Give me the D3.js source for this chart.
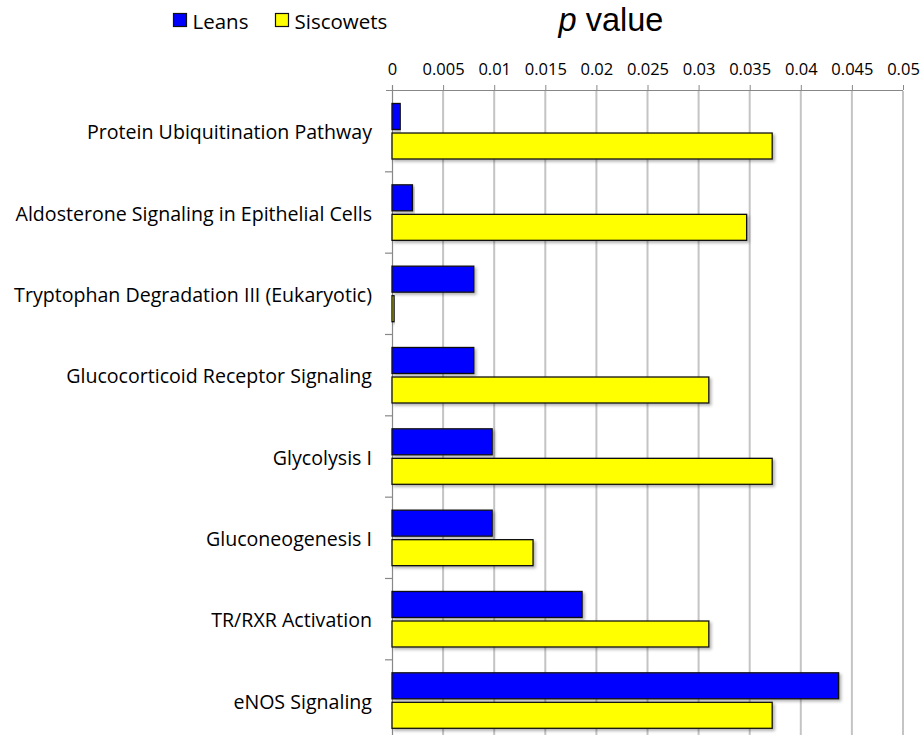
<!DOCTYPE html>
<html>
<head>
<meta charset="utf-8">
<script src="https://cdn.jsdelivr.net/npm/d3@7"></script>
<style>
  body { margin: 0; background: #fff; }
  svg { display: block; }
</style>
</head>
<body>
<div id="chart"></div>
<script>
const pathways = [
  "Protein Ubiquitination Pathway",
  "Aldosterone Signaling in Epithelial Cells",
  "Tryptophan Degradation III (Eukaryotic)",
  "Glucocorticoid Receptor Signaling",
  "Glycolysis I",
  "Gluconeogenesis I",
  "TR/RXR Activation",
  "eNOS Signaling"
];
const seriesNames = ["Leans", "Siscowets"];
const leans = [0.0008, 0.002, 0.008, 0.008, 0.0098, 0.0098, 0.0186, 0.0437];
const siscowets = [0.0372, 0.0347, 0.0002, 0.031, 0.0372, 0.0138, 0.031, 0.0372];
const xTicks = [0, 0.005, 0.01, 0.015, 0.02, 0.025, 0.03, 0.035, 0.04, 0.045, 0.05];
const colors = { Leans: "#0000ff", Siscowets: "#ffff00" };

const width = 921, height = 735;
const font = "'Open Sans', sans-serif";
const svg = d3.select("#chart").append("svg")
  .attr("width", width)
  .attr("height", height);

const defs = svg.append("defs");
const shadow = defs.append("filter").attr("id", "shadow")
  .attr("x", "-5%").attr("y", "-20%").attr("width", "115%").attr("height", "160%");
shadow.append("feDropShadow")
  .attr("dx", 2).attr("dy", 2).attr("stdDeviation", 1.5)
  .attr("flood-color", "#000").attr("flood-opacity", 0.3);

const x = d3.scaleLinear().domain([0, 0.05]).range([392, 903]);
const y = d3.scaleBand().domain(pathways).range([90.5, 90.5 + 8 * 81.33]).padding(0);
const ySub = d3.scaleBand().domain(seriesNames).range([13, 68.5]).paddingInner(0.12);

// gridlines
svg.append("g")
  .selectAll("line")
  .data(xTicks.slice(1))
  .join("line")
  .attr("x1", d => x(d)).attr("x2", d => x(d))
  .attr("y1", 91).attr("y2", height)
  .attr("stroke", "#c4c4c4")
  .attr("stroke-width", 2);

// top axis
const xAxis = svg.append("g")
  .attr("transform", "translate(0,90)")
  .call(d3.axisTop(x).tickValues(xTicks).tickSize(5).tickSizeOuter(0).tickPadding(10)
    .tickFormat(d => d === 0 ? "0" : String(+d.toFixed(3))));
xAxis.select(".domain").attr("stroke", "#888").attr("stroke-width", 1.2)
  .attr("d", `M${x(0) - 6},0.5H${x(0.05)}`);
xAxis.selectAll(".tick line").attr("stroke", "#888");
xAxis.selectAll("text")
  .attr("font-family", font)
  .attr("font-size", "16.5px")
  .attr("fill", "#000");

// left axis
const yAxis = svg.append("g")
  .attr("transform", `translate(${x(0)},0)`)
  .call(d3.axisLeft(y).tickSize(0).tickPadding(20));
yAxis.select(".domain").attr("stroke", "#888").attr("stroke-width", 1.2)
  .attr("d", `M0.5,85V${height}`);
yAxis.selectAll("text")
  .attr("font-family", font)
  .attr("font-size", "19.6px")
  .attr("dy", "0.42em")
  .attr("fill", "#000");
yAxis.append("g")
  .selectAll("line")
  .data(pathways.slice(1))
  .join("line")
  .attr("x1", -7).attr("x2", 0)
  .attr("y1", d => y(d)).attr("y2", d => y(d))
  .attr("stroke", "#888")
  .attr("stroke-width", 1.2);

// bars
const rows = pathways.map((p, i) => ({ p, Leans: leans[i], Siscowets: siscowets[i] }));
const groups = svg.append("g")
  .selectAll("g")
  .data(rows)
  .join("g")
  .attr("transform", d => `translate(0,${y(d.p)})`);

groups.selectAll("rect")
  .data(d => seriesNames.map(s => ({ s, v: d[s] })))
  .join("rect")
  .attr("x", x(0))
  .attr("y", d => ySub(d.s))
  .attr("width", d => Math.max(x(d.v) - x(0), 1))
  .attr("height", ySub.bandwidth())
  .attr("fill", d => colors[d.s])
  .attr("stroke", "#111")
  .attr("stroke-width", 1.3)
  .attr("filter", "url(#shadow)");

// legend
const legend = svg.append("g").attr("transform", "translate(173.5,13.5)");
const legendX = [0, 102];
seriesNames.forEach((s, i) => {
  const item = legend.append("g").attr("transform", `translate(${legendX[i]},0)`);
  item.append("rect")
    .attr("width", 13).attr("height", 13)
    .attr("fill", colors[s])
    .attr("stroke", "#111")
    .attr("stroke-width", 1.2);
  item.append("text")
    .attr("x", 19).attr("y", 15)
    .attr("font-family", font)
    .attr("font-size", "20.5px")
    .text(s);
});

// axis title
const title = svg.append("text")
  .attr("x", 611).attr("y", 31)
  .attr("text-anchor", "middle")
  .attr("font-family", "'Liberation Sans', Arial, sans-serif")
  .attr("font-size", "32.5px");
title.append("tspan").attr("font-style", "italic").text("p");
title.append("tspan").text(" value");
</script>
</body>
</html>
